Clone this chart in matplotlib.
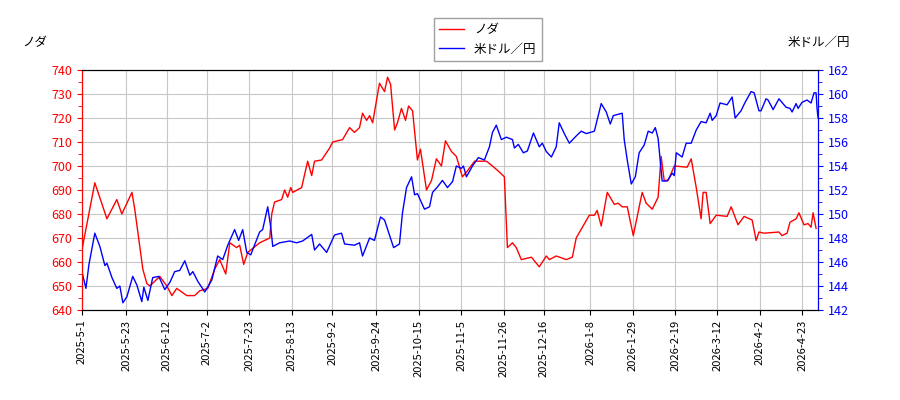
import matplotlib
matplotlib.use("Agg")
import matplotlib.pyplot as plt
import pandas as pd

plt.rcParams['font.family'] = ['Noto Sans CJK JP', 'DejaVu Sans']

start = pd.Timestamp("2025-05-01")

red_days = [0, 6.4, 12.4, 17.3, 19.8, 24.8, 26.2, 30.2, 32.2, 33.7, 38.6, 42.1, 44.6, 47, 52, 55.9, 58.4, 62.4,
            65.8, 68.3, 71.3, 73.3, 76.7, 78.2, 80.2, 82.2, 88.1, 93.1, 94.1, 95.5, 99, 100.5, 102, 103.5, 104.5,
            108.9, 111.9, 113.9, 115.3, 118.8, 122.8, 124.3, 129.2, 132.7, 135.1, 137.6, 139.1, 141.1, 142.6, 144.1,
            147.5, 150, 151.5, 153, 155, 156.4, 158.4, 160.4, 161.9, 163.9, 166.3, 167.8, 170.8, 173.3, 175.7,
            178.2, 180.2, 183.2, 185.6, 188.6, 191.1, 194.6, 200.5, 203.5, 206.9, 209.4, 210.9, 213.4, 215.3,
            217.8, 222.8, 226.7, 230.2, 231.7, 235.1, 240.1, 243.1, 245, 251.5, 254, 255.4, 257.4, 260.4, 263.9,
            265.8, 267.8, 270.3, 273.3, 277.7, 279.7, 282.7, 285.6, 287.1, 288.6, 290.6, 293.6, 300, 302, 304.5,
            306.9, 307.9, 309.4, 311.4, 314.4, 319.8, 321.8, 325.2, 328.2, 332.2, 334.2, 335.6, 338.1, 345.5, 347,
            349.5, 351, 354, 355.4, 357.9, 359.9, 361.4, 362.4, 363.9]
red_vals = [665, 693, 678, 686, 680, 689, 682, 657, 651, 650, 654, 650, 646, 649, 646, 646, 648, 649,
            657, 661, 655, 668, 666, 667, 659, 664, 668, 670, 680, 685, 686, 690, 687, 691, 689,
            691, 702, 696, 702, 702.5, 707.5, 710, 711, 716, 714, 716, 722, 719, 721, 718,
            734.5, 731, 737, 734, 715, 718, 724, 719, 725, 723, 702.5, 707, 690, 694, 703,
            700, 710.5, 706, 704, 695.5, 698, 702, 702, 700, 697.5, 695.5, 666, 668, 666,
            661, 662, 658, 662.5, 661, 662.5, 661, 662, 670, 679.5, 679.5, 681.5, 675, 689, 684,
            684.5, 683, 683, 671, 689, 684.5, 682, 687, 704, 694, 694, 700, 699.5, 703, 691,
            678, 689, 689, 676, 679.5, 679, 683, 675.5, 679, 677.5, 669, 672.5, 672, 672.5, 671,
            672, 676.6, 678, 680.5, 675.5, 676, 674.5, 680.5, 674]

blue_days = [0, 2, 3.5, 6.4, 8.9, 11.4, 12.4, 14.9, 17.3, 18.8, 20.3, 22.3, 25.2, 27.2, 29.7, 30.7, 32.7, 35.1,
             38.1, 41.1, 43.6, 46, 48.5, 51, 53.5, 55, 57.4, 60.9, 64.4, 67.3, 69.8, 72.3, 75.7, 77.7, 79.7,
             81.7, 83.7, 88.1, 89.6, 92.1, 93.6, 94.6, 98, 103, 106.4, 109.4, 113.9, 115.3, 117.8, 121.3, 125.2,
             128.7, 130.2, 135.1, 137.6, 139.1, 142.6, 145, 148, 150, 154.5, 157.4, 158.9, 160.9, 163.4, 164.9,
             166.3, 169.8, 172.3, 173.8, 176.2, 178.7, 181.2, 183.7, 185.6, 188.1, 189.1, 190.6, 193.6, 196.5,
             199.5, 202, 203.5, 205.4, 207.9, 210.4, 213.4, 214.4, 216.3, 218.8, 220.8, 223.8, 226.7, 228.2,
             230.2, 232.7, 235.1, 236.6, 239.1, 241.6, 245, 247.5, 250, 254, 257.4, 259.9, 261.9, 263.4, 267.8,
             268.8, 270.3, 272.3, 274.3, 276.2, 278.7, 280.7, 282.7, 284.2, 285.6, 286.6, 287.6, 290.1, 292.6,
             293.6, 294.6, 297.5, 299.5, 302, 304.5, 306.9, 309.4, 311.4, 312.4, 314.4, 316.3, 319.8, 322.3,
             323.8, 326.7, 328.7, 331.7, 333.2, 335.6, 336.6, 339.1, 340.1, 342.6, 345.5, 349, 351, 352, 354,
             355, 356.9, 359.4, 361.4, 362.9, 363.9, 364.4, 364.9]
blue_vals = [145.2, 143.8, 145.8, 148.4, 147.3, 145.7, 145.9, 144.7, 143.8, 144, 142.6, 143.1, 144.8, 144.1, 142.7,
             143.9, 142.8, 144.7, 144.8, 143.7, 144.3, 145.2, 145.3, 146.1, 144.9, 145.2, 144.4, 143.5, 144.5,
             146.5, 146.2, 147.4, 148.7, 147.8, 148.7, 146.8, 146.6, 148.5, 148.7, 150.6, 148.9, 147.3, 147.6,
             147.75, 147.6, 147.75, 148.3, 147, 147.5, 146.8, 148.25, 148.4, 147.5, 147.4, 147.6, 146.5, 148,
             147.8, 149.75, 149.5, 147.2, 147.5, 150.1, 152.2, 153.1, 151.6, 151.7, 150.4, 150.6, 151.8, 152.25,
             152.8, 152.2, 152.7, 154, 153.8, 154, 153.1, 154, 154.7, 154.5, 155.6, 156.8, 157.4, 156.2, 156.4,
             156.2, 155.5, 155.8, 155.1, 155.25, 156.75, 155.6, 155.9, 155.2, 154.75, 155.6, 157.6, 156.7, 155.9,
             156.5, 156.9, 156.7, 156.9, 159.2, 158.5, 157.5, 158.2, 158.4, 156.2, 154.5, 152.5, 153.1, 155.1,
             155.75, 156.9, 156.75, 157.2, 156.3, 154.5, 152.75, 152.75, 153.4, 153.2, 155.1, 154.75, 155.9,
             155.9, 157, 157.7, 157.6, 158.4, 157.8, 158.2, 159.25, 159.1, 159.75, 158, 158.6, 159.3, 160.2,
             160.1, 158.6, 158.6, 159.6, 159.5, 158.7, 159.6, 158.9, 158.8, 158.5, 159.2, 158.8, 159.3, 159.5,
             159.25, 160.1, 160.1, 158.75, 158]

red_dates = start + pd.to_timedelta(red_days, unit="D")
blue_dates = start + pd.to_timedelta(blue_days, unit="D")

tick_strings = ["2025-05-01", "2025-05-23", "2025-06-12", "2025-07-02", "2025-07-23", "2025-08-13",
                "2025-09-02", "2025-09-24", "2025-10-15", "2025-11-05", "2025-11-26", "2025-12-16",
                "2026-01-08", "2026-01-29", "2026-02-19", "2026-03-12", "2026-04-02", "2026-04-23"]
tick_dates = pd.to_datetime(tick_strings)
tick_labels = [f"{d.year}-{d.month}-{d.day}" for d in tick_dates]

fig = plt.figure(figsize=(9, 4), dpi=100)
ax = fig.add_axes([0.091, 0.225, 0.818, 0.6])
ax2 = ax.twinx()

l1, = ax.plot(red_dates, red_vals, color="red", lw=1, label="ノダ")
l2, = ax2.plot(blue_dates, blue_vals, color="blue", lw=1, label="米ドル／円")

ax.set_xlim(start, start + pd.Timedelta(days=364.9))
ax.set_ylim(640, 740)
ax.set_yticks(range(640, 741, 10))
ax2.set_ylim(142, 162)
ax2.set_yticks(range(142, 163, 2))
ax.set_xticks(tick_dates)
ax.set_xticklabels(tick_labels, rotation=90, fontsize=8)
ax.grid(True, color="#c8c8c8", lw=0.8)
ax.set_axisbelow(True)

ax.tick_params(axis="y", colors="red", labelsize=9)
ax2.tick_params(axis="y", colors="blue", labelsize=9)
ax.spines["left"].set_color("red")
ax2.spines["left"].set_color("red")
ax2.spines["right"].set_color("blue")
ax.yaxis.set_minor_locator(matplotlib.ticker.MultipleLocator(5))
ax2.yaxis.set_minor_locator(matplotlib.ticker.MultipleLocator(1))
ax.tick_params(axis="y", which="minor", colors="red", length=3)
ax2.tick_params(axis="y", which="minor", colors="blue", length=3)

fig.text(0.025, 0.885, "ノダ", fontsize=9)
fig.text(0.945, 0.885, "米ドル／円", fontsize=9, ha="right")
fig.legend(handles=[l1, l2], loc="upper center", bbox_to_anchor=(0.542, 0.97),
           fontsize=9, frameon=True, fancybox=False, edgecolor="#888888")

fig.savefig("out.png", dpi=100)
